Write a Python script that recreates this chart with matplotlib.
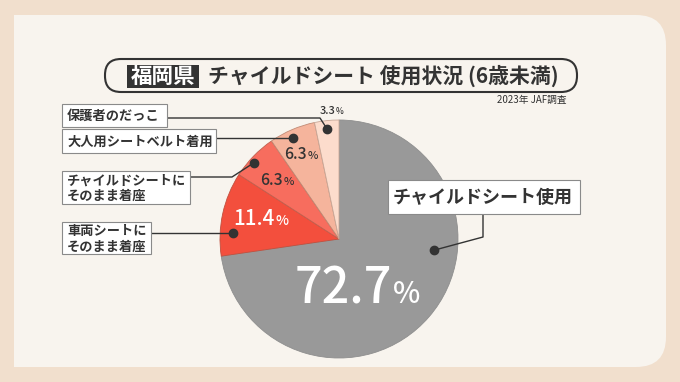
import matplotlib
matplotlib.use("Agg")
import matplotlib.pyplot as plt
from matplotlib.patches import Rectangle, FancyBboxPatch
import numpy as np

plt.rcParams['font.family'] = ['Noto Sans CJK JP', 'DejaVu Sans']

# ---- data ----
categories = ["チャイルドシート使用", "車両シートに\nそのまま着座", "チャイルドシートに\nそのまま着座",
              "大人用シートベルト着用", "保護者のだっこ"]
values = [72.7, 11.4, 6.3, 6.3, 3.3]
value_labels = ["72.7", "11.4", "6.3", "6.3", "3.3"]
title_pref = "福岡県"
title_main = "チャイルドシート 使用状況 (6歳未満)"
source = "2023年 JAF調査"

# ---- style ----
colors = ["#999999", "#f34f3d", "#f76d5e", "#f5b49c", "#fcdccc"]
edge_colors = ["#8e8e8e", "#c0503f", "#c0604f", "#c08a75", "#c8a898"]
outer_bg = "#f1dfcd"
panel_bg = "#f8f4ee"
dark = "#333333"

W, H = 680, 382
fig = plt.figure(figsize=(W / 100, H / 100), dpi=100)
fig.patch.set_facecolor(outer_bg)
ax = fig.add_axes([0, 0, 1, 1])
ax.set_axis_off()

# panel: square left corners, rounded right corners
px0, py0, px1, py1, rr = 14, 15, 666, 367, 30
ax.add_patch(FancyBboxPatch((px0 + 40, py0), px1 - px0 - 40, py1 - py0,
                            boxstyle=f"round,pad=0,rounding_size={rr}",
                            fc=panel_bg, ec="none", zorder=0))
ax.add_patch(Rectangle((px0, py0), 100, py1 - py0, fc=panel_bg, ec="none", zorder=0))

# ---- pie ----
cx, cy, R = 339, 239, 119
wedges, _ = ax.pie(values, colors=colors, startangle=-90, counterclock=True,
                   center=(cx, cy), radius=R,
                   wedgeprops=dict(linewidth=0.6), frame=True)
for w, ec in zip(wedges, edge_colors):
    w.set_edgecolor(ec)
    w.set_zorder(2)
ax.set_xlim(0, W)
ax.set_ylim(H, 0)
ax.set_aspect('auto')
ax.set_axis_off()

# anchor dot per wedge: (fraction along wedge angle, radius fraction)
anchors = [(0.37, 0.80), (0.28, 0.89), (0.40, 0.96), (0.445, 0.93), (0.48, 0.93)]
dots = []
for w, (fa, fr) in zip(wedges, anchors):
    th = np.deg2rad(w.theta1 + fa * (w.theta2 - w.theta1))
    dots.append((cx + fr * R * np.cos(th), cy + fr * R * np.sin(th)))

# label boxes (x0, y0, x1, y1)
boxes = [(388, 180, 580, 214), (62, 222, 151, 254), (62, 171, 190, 204),
         (62, 129, 216, 153), (62, 104, 167, 127)]
box_fs = [13, 9.5, 9.5, 9.5, 9.5]
for (x0, y0, x1, y1), lab, fs in zip(boxes, categories, box_fs):
    ax.add_patch(Rectangle((x0, y0), x1 - x0, y1 - y0, fc="white", ec="#8a8a8a",
                           lw=0.8, zorder=4))
    ax.text(x0 + 5, (y0 + y1) / 2 + 0.5, lab, ha="left", va="center", fontsize=fs,
            fontweight="bold", color=dark, linespacing=1.15, zorder=5)

# leader lines (elbow points)
elbows = [[(483, 237), (483, 214)],
          [(151, None)],
          [(232, 177), (190, 177)],
          [(282, None), (216, None)],
          [(320, 118), (167, 118)]]
for d, el in zip(dots, elbows):
    pts = [d]
    for ex, ey in el:
        pts.append((ex, d[1] if ey is None else ey))
    xs, ys = zip(*pts)
    ax.plot(xs, ys, color=dark, lw=1.0, zorder=3, solid_capstyle="butt")
    ax.plot(d[0], d[1], "o", ms=6, color=dark, zorder=6)

# value labels: (split x, baseline y, number size, percent size, color)
vlay = [(392, 303, 35, 21, "white"), (275, 225, 14.8, 10, "white"),
        (283, 185, 11.3, 8, dark), (307, 159, 11.3, 8, dark),
        (335, 114, 7.9, 6, dark)]
for txt, (sx, by, nfs, pfs, c) in zip(value_labels, vlay):
    ax.text(sx, by, txt, ha="right", va="baseline", fontsize=nfs, color=c,
            fontweight="medium", zorder=7)
    ax.text(sx + 0.5, by, "%", ha="left", va="baseline", fontsize=pfs, color=c,
            fontweight="medium", zorder=7)

# ---- title ----
ax.add_patch(FancyBboxPatch((105, 59), 472, 33, boxstyle="round,pad=0,rounding_size=16",
                            fc=panel_bg, ec=dark, lw=1.5, zorder=4))
ax.add_patch(Rectangle((127, 65), 72, 23, fc=dark, ec="none", zorder=5))
ax.text(163, 76.5, title_pref, ha="center", va="center", fontsize=15.5, color="white",
        fontweight="bold", zorder=6)
ax.text(208, 76, title_main, ha="left", va="center", fontsize=15.0, color=dark,
        fontweight="bold", zorder=6)
ax.text(567, 100, source, ha="right", va="center", fontsize=7, color=dark, zorder=6)

fig.savefig("out.png", dpi=100, facecolor=fig.get_facecolor())
